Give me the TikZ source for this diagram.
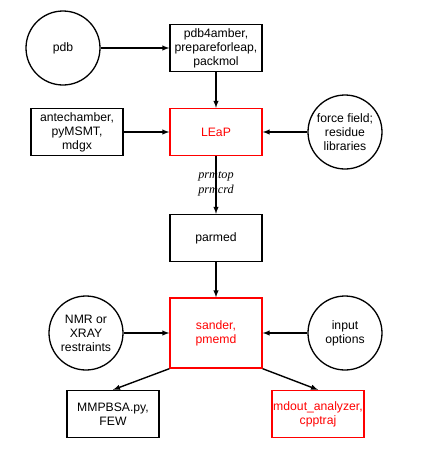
\documentclass[tikz,border=0pt]{standalone}
\usepackage{fontspec}
\setmainfont{Liberation Sans}
\newfontfamily\filefont{Liberation Serif}
\tikzset{
  prog/.style={draw, line width=1.4pt, minimum width=92pt, minimum height=47pt, inner sep=1pt, align=center},
  amber/.style={prog, draw=red, text=red},
  src/.style={draw, circle, line width=1.3pt, minimum size=74pt, inner sep=0pt, align=center},
  flow/.style={->, line width=1.4pt}
}
\begin{document}
\begin{tikzpicture}[x=1pt, y=1pt, >=latex, font=\fontsize{12.2}{14}\selectfont]
\useasboundingbox (0,0) rectangle (421,-459);
\node [src] (pdb) at (63,-48) {pdb};
\node [prog] (prep) at (216,-48) {pdb4amber,\\prepareforleap,\\packmol};
\node [prog] (ante) at (77,-132) {antechamber,\\pyMSMT,\\mdgx};
\node [amber] (leap) at (216,-132) {LEaP};
\node [src] (ffield) at (345,-132) {force field;\\residue\\libraries};
\node [prog] (parmed) at (216,-238) {parmed};
\node [amber, minimum height=70pt] (sander) at (216,-333) {sander,\\pmemd};
\node [src] (nmr) at (86,-333) {NMR or\\XRAY\\restraints};
\node [src] (inopt) at (345,-333) {input\\options};
\node [prog] (mmpbsa) at (113,-414) {MMPBSA.py,\\FEW};
\node [amber] (mdout) at (318,-414) {mdout\_analyzer,\\cpptraj};
% files passed on from LEaP
\node [align=center, font=\filefont\itshape\fontsize{12.2}{15}\selectfont] (files) at (216,-184) {prmtop\\prmcrd};
\draw [flow] (pdb) -- (prep);
\draw [flow] (prep) -- (leap);
\draw [flow] (ante) -- (leap);
\draw [flow] (ffield) -- (leap);
\draw [flow] (leap) -- (parmed);
\draw [flow] (parmed) -- (sander);
\draw [flow] (nmr) -- (sander);
\draw [flow] (inopt) -- (sander);
\draw [flow] (sander.south west) -- (mmpbsa.north);
\draw [flow] (sander.south east) -- (mdout.north);
\end{tikzpicture}
\end{document}
